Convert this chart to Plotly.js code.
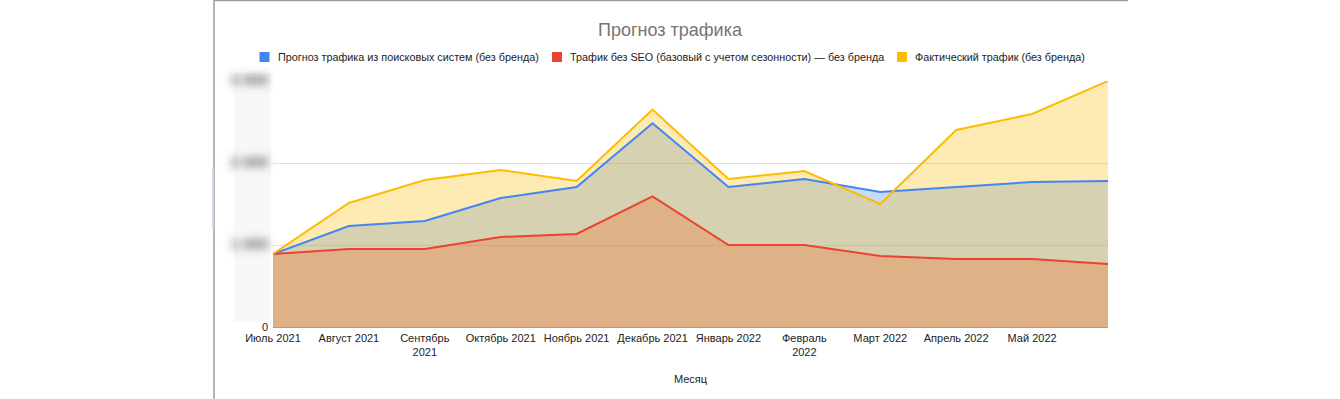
<!DOCTYPE html>
<html>
<head>
<meta charset="utf-8">
<script src="https://cdn.plot.ly/plotly-3.0.1.min.js"></script>
<style>
  html, body { margin: 0; padding: 0; background: #ffffff; }
  #chart { width: 1340px; height: 399px; }
</style>
</head>
<body>
<svg width="0" height="0" style="position:absolute">
  <filter id="blurTick" x="-50%" y="-200%" width="200%" height="500%">
    <feGaussianBlur stdDeviation="4"/>
  </filter>
</svg>
<div id="chart"></div>
<script>
// ---- data ----
const months = ['Июль 2021', 'Август 2021', 'Сентябрь 2021', 'Октябрь 2021', 'Ноябрь 2021', 'Декабрь 2021',
                'Январь 2022', 'Февраль 2022', 'Март 2022', 'Апрель 2022', 'Май 2022', 'Июнь 2022'];
const tickMonths = months.slice(0, 11);
const tickLabels = ['Июль 2021', 'Август 2021', 'Сентябрь<br>2021', 'Октябрь 2021', 'Ноябрь 2021', 'Декабрь 2021',
                    'Январь 2022', 'Февраль<br>2022', 'Март 2022', 'Апрель 2022', 'Май 2022'];
const forecast = [890, 1232, 1293, 1573, 1707, 2485, 1707, 1805, 1646, 1707, 1768, 1780];
const noSeo    = [890,  951,  951, 1098, 1134, 1593, 1000, 1000,  866,  829,  829,  768];
const actual   = [890, 1512, 1793, 1915, 1780, 2652, 1805, 1902, 1500, 2402, 2598, 3000];
const yTicks = [0, 1000, 2000, 3000];
const yTickText = ['0', '1 000', '2 000', '3 000'];
const seriesNames = ['Прогноз трафика из поисковых систем (без бренда)',
                     'Трафик без SEO (базовый с учетом сезонности) — без бренда',
                     'Фактический трафик (без бренда)'];
const lineColors = ['#4285f4', '#ea4335', '#fbbc04'];
const fillColors = ['rgba(66,133,244,0.3)', 'rgba(234,67,53,0.3)', 'rgba(251,188,4,0.3)'];

const values = [forecast, noSeo, actual];
const traces = [];
// filled areas first
values.forEach((v, i) => {
  traces.push({
    x: months, y: v, type: 'scatter', mode: 'lines',
    fill: 'tozeroy', fillcolor: fillColors[i],
    line: { color: 'rgba(0,0,0,0)', width: 0 },
    showlegend: false, hoverinfo: 'skip', name: seriesNames[i]
  });
});
// lines on top
values.forEach((v, i) => {
  traces.push({
    x: months, y: v, type: 'scatter', mode: 'lines',
    line: { color: lineColors[i], width: 2 },
    showlegend: false, hoverinfo: 'x+y', name: seriesNames[i]
  });
});

const L = 273, R = 1108, T = 81, B = 327;
const px = x => (x - L) / (R - L);
const py = y => (B - y) / (B - T);

// custom legend (Google Sheets style): square + label, one row
const legendSquareLeft = [259.5, 552, 897];
const legendY = 57;
const legendShapes = legendSquareLeft.map((x0, i) => ({
  type: 'rect', xref: 'paper', yref: 'paper',
  x0: px(x0), x1: px(x0 + 10), y0: py(legendY + 5), y1: py(legendY - 5),
  fillcolor: lineColors[i], line: { width: 0 }
}));
const legendAnnotations = legendSquareLeft.map((x0, i) => ({
  xref: 'paper', yref: 'paper', x: px(x0 + 16), y: py(legendY),
  xanchor: 'left', yanchor: 'middle', showarrow: false,
  text: seriesNames[i], font: { size: 10.8, color: '#222222' }
}));

const layout = {
  width: 1340, height: 399,
  margin: { l: L, r: 1340 - R, t: T, b: 399 - B, pad: 0 },
  paper_bgcolor: '#ffffff', plot_bgcolor: '#ffffff',
  showlegend: false,
  font: { family: 'Liberation Sans, Arial, sans-serif', size: 11, color: '#222222' },
  title: { text: 'Прогноз трафика', x: 0.5, xanchor: 'center', y: 1 - 30 / 399, yanchor: 'middle',
           font: { family: 'Liberation Sans, Arial, sans-serif', size: 18, color: '#757575' } },
  xaxis: {
    type: 'category', range: [0, 11], showgrid: false, zeroline: false,
    tickmode: 'array', tickvals: tickMonths, ticktext: tickLabels,
    tickfont: { size: 11, color: '#222222' }, ticks: '', showline: false, ticklabelstandoff: 3,
    title: { text: 'Месяц', font: { size: 11, color: '#222222' }, standoff: 18 },
    fixedrange: true, automargin: false
  },
  yaxis: {
    range: [0, 3000], tickmode: 'array', tickvals: yTicks, ticktext: yTickText,
    showgrid: true, gridcolor: '#e0e0e0', gridwidth: 1,
    zeroline: true, zerolinecolor: '#9e9e9e', zerolinewidth: 1,
    tickfont: { size: 11, color: '#222222' }, ticks: '', ticklabelstandoff: 4,
    fixedrange: true, automargin: false
  },
  annotations: legendAnnotations,
  shapes: [
    { type: 'rect', xref: 'paper', yref: 'paper', x0: px(234), x1: px(271), y0: py(322), y1: py(73),
      fillcolor: '#f8f8f8', line: { width: 0 }, layer: 'below' },
    { type: 'line', xref: 'paper', yref: 'paper', x0: px(214), x1: px(214), y0: py(0), y1: py(399),
      line: { color: '#9e9e9e', width: 1.5 } },
    { type: 'line', xref: 'paper', yref: 'paper', x0: px(214), x1: px(1128), y0: py(0.5), y1: py(0.5),
      line: { color: '#9e9e9e', width: 1.5 } },
    { type: 'line', xref: 'paper', yref: 'paper', x0: px(213), x1: px(213), y0: py(168), y1: py(230),
      line: { color: '#c6d7f5', width: 1.5 } }
  ].concat(legendShapes)
};

Plotly.newPlot('chart', traces, layout, { displayModeBar: false, staticPlot: true }).then(() => {
  document.querySelectorAll('.ytick text').forEach(t => {
    if (t.textContent.trim() !== '0') {
      t.setAttribute('filter', 'url(#blurTick)');
      t.style.fill = '#555555';
      t.style.fontSize = '15px';
      t.style.fontWeight = 'bold';
    }
  });
});
</script>
</body>
</html>
